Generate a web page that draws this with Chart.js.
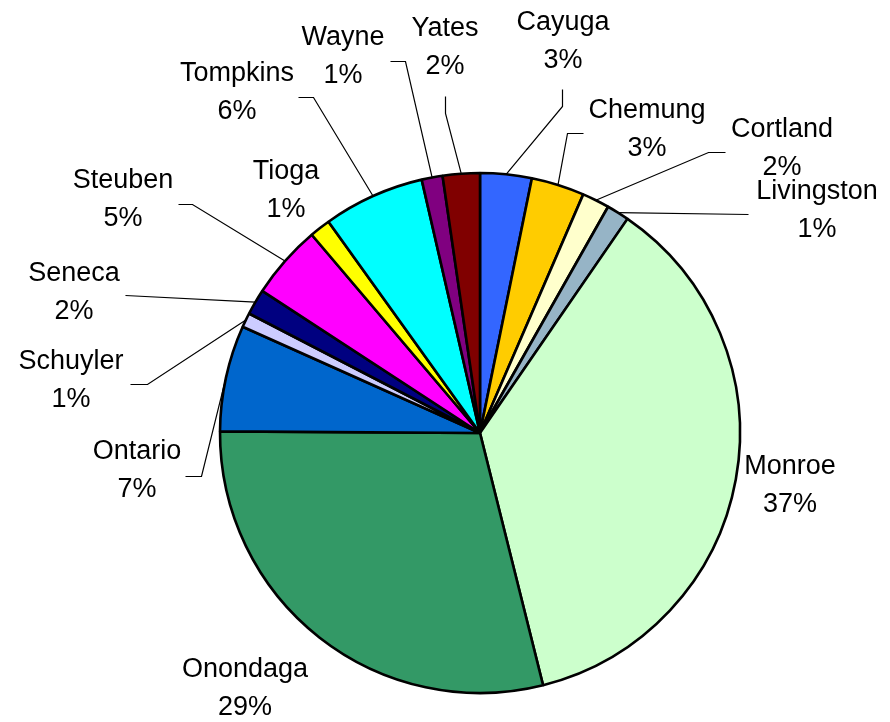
<!DOCTYPE html>
<html>
<head>
<meta charset="utf-8">
<script src="https://cdn.jsdelivr.net/npm/chart.js@4"></script>
<style>
html,body{margin:0;padding:0;background:#fff;}
#wrap{width:890px;height:722px;}
</style>
</head>
<body>
<div id="wrap"><canvas id="c" width="890" height="722"></canvas></div>
<script>
// Data
const counties = ["Cayuga","Chemung","Cortland","Livingston","Monroe","Onondaga","Ontario","Schuyler","Seneca","Steuben","Tioga","Tompkins","Wayne","Yates"];
const shares = [3.2, 3.3, 1.7, 1.4, 36.5, 29.0, 6.6, 0.9, 1.6, 4.6, 1.3, 6.3, 1.3, 2.3];
const sliceColors = ["#3366FF","#FFCC00","#FFFFCC","#96B4C6","#CCFFCC","#339966","#0066CC","#CCCCFF","#000080","#FF00FF","#FFFF00","#00FFFF","#800080","#800000"];

// Label layout (canvas pixels): label block centre, leader elbow and end (null = no leader)
const labelLayout = [
  {x:563, y:42,  elbow:[562,106], end:[562,89]},
  {x:647, y:130, elbow:[567,133], end:[583,133]},
  {x:782, y:149, elbow:[708,152], end:[725,152]},
  {x:817, y:211, elbow:[748,214], end:[748,214]},
  {x:790, y:486, elbow:null, end:null},
  {x:245, y:689, elbow:null, end:null},
  {x:137, y:471, elbow:[201,476], end:[185,476]},
  {x:71,  y:381, elbow:[147,384], end:[130,384]},
  {x:74,  y:293, elbow:[125,295], end:[125,295]},
  {x:123, y:200, elbow:[192,204], end:[178,204]},
  {x:286, y:191, elbow:null, end:null},
  {x:237, y:93,  elbow:[313,97],  end:[298,97]},
  {x:343, y:57,  elbow:[405,61],  end:[390,61]},
  {x:445, y:48,  elbow:[445,113], end:[445,96]}
];

const labelPlugin = {
  id: 'pieLabels',
  afterDatasetsDraw(chart) {
    const ctx = chart.ctx;
    const meta = chart.getDatasetMeta(0);
    const vals = chart.data.datasets[0].data;
    const total = vals.reduce((a,b)=>a+b,0);
    ctx.save();
    // leader lines
    ctx.strokeStyle = '#000';
    ctx.lineWidth = 1.2;
    meta.data.forEach((arc, i) => {
      const L = labelLayout[i];
      if (!L.elbow) return;
      const mid = (arc.startAngle + arc.endAngle) / 2;
      const sx = arc.x + Math.cos(mid) * arc.outerRadius;
      const sy = arc.y + Math.sin(mid) * arc.outerRadius;
      ctx.beginPath();
      ctx.moveTo(sx, sy);
      ctx.lineTo(L.elbow[0] + 0.5, L.elbow[1] + 0.5);
      ctx.lineTo(L.end[0] + 0.5, L.end[1] + 0.5);
      ctx.stroke();
    });
    // text
    ctx.fillStyle = '#000';
    ctx.font = "27px 'Liberation Sans', Arial, sans-serif";
    ctx.textAlign = 'center';
    ctx.textBaseline = 'middle';
    meta.data.forEach((arc, i) => {
      const L = labelLayout[i];
      const pct = Math.round(vals[i] / total * 100) + '%';
      ctx.fillText(chart.data.labels[i], L.x, L.y - 19);
      ctx.fillText(pct, L.x, L.y + 19);
    });
    ctx.restore();
  }
};

new Chart(document.getElementById('c'), {
  type: 'pie',
  data: {
    labels: counties,
    datasets: [{
      data: shares,
      backgroundColor: sliceColors,
      borderColor: '#000',
      borderWidth: 2.6,
      radius: 260
    }]
  },
  options: {
    responsive: false,
    animation: false,
    layout: { padding: { left: 90, right: 20, top: 154, bottom: 10 } },
    plugins: {
      legend: { display: false },
      tooltip: { enabled: false }
    }
  },
  plugins: [labelPlugin]
});
</script>
</body>
</html>
